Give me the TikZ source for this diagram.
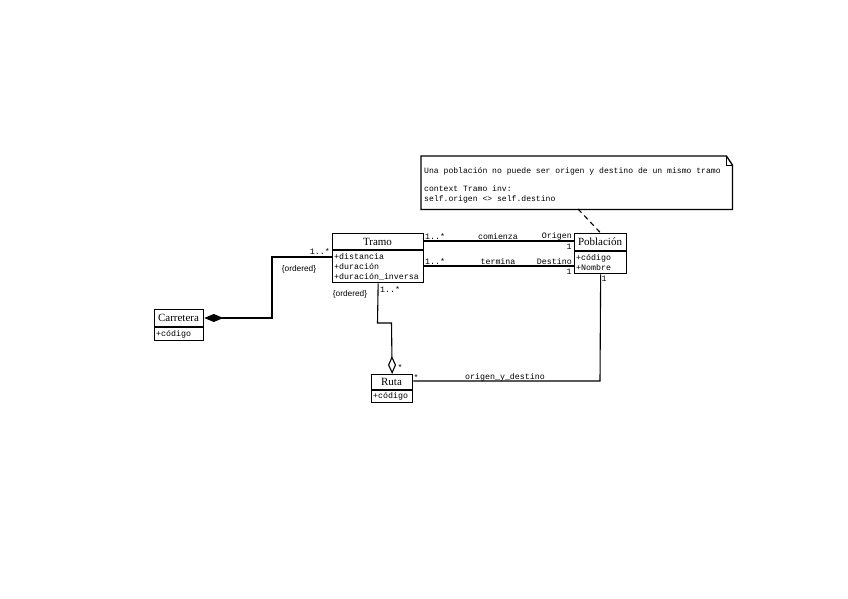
\documentclass[tikz,border=0pt]{standalone}
\usepackage{fontspec}
\setmainfont{Liberation Serif}
\newfontfamily\monof{Liberation Mono}
\newfontfamily\sansf{Liberation Sans}
\usetikzlibrary{calc,arrows.meta}
\begin{document}
\begin{tikzpicture}[x=1pt,y=-1pt,
  cls/.style={draw, line width=1.3pt, inner sep=0pt, anchor=north west},
  ttl/.style={font=\fontsize{11}{12}\selectfont, inner sep=0pt},
  attr/.style={font=\monof\fontsize{8.3}{10}\selectfont, anchor=west, inner sep=0pt},
  lbl/.style={font=\monof\fontsize{8.3}{10}\selectfont, inner sep=0pt},
  olbl/.style={font=\sansf\fontsize{8.3}{10}\selectfont, inner sep=0pt},
  sep/.style={line width=1.3pt},
  conn/.style={line width=1.1pt},
  note/.style={font=\monof\fontsize{8.1}{10}\selectfont, anchor=west, inner sep=0pt}]
\useasboundingbox (0,0) rectangle (848,599);

% Tramo
\node[cls, minimum width=91pt, minimum height=49pt] (tramo) at (332,233) {};
\node[ttl] (tramoT) at (377.5,242) {Tramo};
\draw[sep] ($(tramo.north west)+(0,17)$) -- ($(tramo.north east)+(0,17)$);
\node[attr] (tA1) at (334,257) {+distancia};
\node[attr] (tA2) at (334,267) {+duración};
\node[attr] (tA3) at (334,277) {+duración\_inversa};

% Poblacion
\node[cls, minimum width=52pt, minimum height=40pt] (pob) at (574,233) {};
\node[ttl] (pobT) at (600,242) {Población};
\draw[sep] ($(pob.north west)+(0,18)$) -- ($(pob.north east)+(0,18)$);
\node[attr] (pA1) at (576,258) {+código};
\node[attr] (pA2) at (576,267.5) {+Nombre};

% Carretera
\node[cls, minimum width=49pt, minimum height=31pt] (carr) at (154,309) {};
\node[ttl] (carrT) at (178.5,318) {Carretera};
\draw[sep] ($(carr.north west)+(0,18)$) -- ($(carr.north east)+(0,18)$);
\node[attr] (cA1) at (156,334) {+código};

% Ruta
\node[cls, minimum width=41pt, minimum height=28pt] (ruta) at (371,374) {};
\node[ttl] (rutaT) at (391.5,382) {Ruta};
\draw[sep] ($(ruta.north west)+(0,16)$) -- ($(ruta.north east)+(0,16)$);
\node[attr] (rA1) at (373,396.5) {+código};

% Note
\node[inner sep=0pt, minimum width=311pt, minimum height=53pt, anchor=north west] (nota) at (421,156) {};
\draw[line width=1.3pt] (nota.north west) -- ($(nota.north east)+(-6,0)$) -- ($(nota.north east)+(0,9)$) -- (nota.south east) -- (nota.south west) -- cycle;
\draw[line width=0.8pt] ($(nota.north east)+(-6,0)$) -- ($(nota.north east)+(-6,9)$) -- ($(nota.north east)+(0,9)$);
\node[note] (n1) at (424,171) {Una población no puede ser origen y destino de un mismo tramo};
\node[note] (n2) at (424,189) {context Tramo inv:};
\node[note] (n3) at (424,199) {self.origen <> self.destino};
\coordinate (nd) at (578,209);
\draw[conn, dash pattern=on 5pt off 4pt] (nd) -- (pob.north);

% comienza / termina
\draw[conn] ($(tramo.north east)+(0,8)$) -- ($(pob.north west)+(0,8)$);
\draw[conn] ($(tramo.north east)+(0,33)$) -- ($(pob.north west)+(0,33)$);
\node[lbl, anchor=west] (l1) at (425,236.5) {1..*};
\node[lbl] (l2) at (498,236.5) {comienza};
\node[lbl, anchor=east] (l3) at (572,236.5) {Origen};
\node[lbl] (l4) at (569,247) {1};
\node[lbl, anchor=west] (l5) at (425,261.5) {1..*};
\node[lbl] (l6) at (498,261.5) {termina};
\node[lbl, anchor=east] (l7) at (572,261.5) {Destino};
\node[lbl] (l8) at (569,272) {1};

% Carretera - Tramo composition
\coordinate (ca) at (272,257);
\coordinate (cb) at (272,318);
\draw[conn, -{Diamond[length=19pt,width=8pt]}] ($(tramo.north west)+(0,24)$) -- (ca) -- (cb) -- (carr.east |- cb);
\node[lbl, anchor=east] (l9) at (330,251.5) {1..*};
\node[olbl] (l10) at (299,269) {\{ordered\}};

% Tramo - Ruta aggregation
\coordinate (ra) at (377.5,323);
\coordinate (rb) at (391.5,323);
\draw[conn, -{Diamond[open,length=18pt,width=8pt]}] (tramo.south) -- (ra) -- (rb) -- (ruta.north);
\node[lbl, anchor=west] (l11) at (380,289) {1..*};
\node[olbl] (l12) at (350,294) {\{ordered\}};
\node[lbl] (l13) at (400,367) {*};

% Poblacion - Ruta
\coordinate (pa) at (600,381);
\draw[conn] (pob.south) -- (pa) -- (ruta.east |- pa);
\node[lbl] (l14) at (604,279) {1};
\node[lbl] (l15) at (416,377) {*};
\node[lbl] (l16) at (505,377) {origen\_y\_destino};
\end{tikzpicture}
\end{document}
